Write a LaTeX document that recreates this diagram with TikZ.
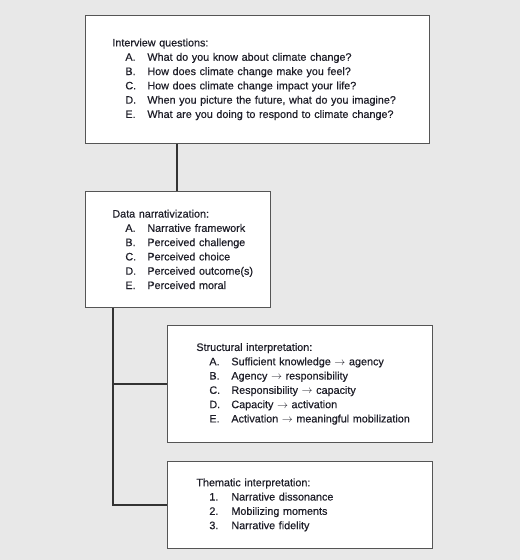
\documentclass[tikz,border=0pt]{standalone}
\usepackage{fontspec}
\setmainfont{Liberation Sans}[BoldFont=Liberation Sans,BoldFeatures={FakeBold=0.4}]
\usepackage{xcolor}
\usepackage{tikz}
\usetikzlibrary{positioning}

\definecolor{bg}{HTML}{E8E8E8}
\definecolor{boxline}{HTML}{555555}
\definecolor{linkline}{HTML}{333333}
\definecolor{ink}{HTML}{1E1E28}

% one list item: label, then text
\newcommand{\itm}[2]{\hspace*{13pt}\makebox[22pt][l]{#1}\mbox{#2}}
\newcommand{\arr}{$\rightarrow$}

\begin{document}
\begin{tikzpicture}[x=1pt,y=-1pt,
    every node/.style={font=\fontsize{10.8}{14.3}\selectfont\bfseries,text=ink},
    stage/.style={draw=boxline,line width=0.8pt,fill=white,anchor=north west,align=left,inner xsep=27pt,inner ysep=0pt},
    link/.style={draw=linkline,line width=1.8pt}]
    \useasboundingbox[fill=bg] (0,0) rectangle (520,560);

    \node[stage,text width=290pt,minimum height=128pt] (intv) at (85,15)
        {Interview questions:\\
         \itm{A.}{What do you know about climate change?}\\
         \itm{B.}{How does climate change make you feel?}\\
         \itm{C.}{How does climate change impact your life?}\\
         \itm{D.}{When you picture the future, what do you imagine?}\\
         \itm{E.}{What are you doing to respond to climate change?}};
    \node[stage,text width=131pt,minimum height=116pt] (narr) at (85,191)
        {Data narrativization:\\
         \itm{A.}{Narrative framework}\\
         \itm{B.}{Perceived challenge}\\
         \itm{C.}{Perceived choice}\\
         \itm{D.}{Perceived outcome(s)}\\
         \itm{E.}{Perceived moral}};
    \node[stage,inner xsep=29pt,text width=207pt,minimum height=117pt] (struc) at (167,325)
        {Structural interpretation:\\
         \itm{A.}{Sufficient knowledge \arr{} agency}\\
         \itm{B.}{Agency \arr{} responsibility}\\
         \itm{C.}{Responsibility \arr{} capacity}\\
         \itm{D.}{Capacity \arr{} activation}\\
         \itm{E.}{Activation \arr{} meaningful mobilization}};
    \node[stage,inner xsep=29pt,text width=207pt,minimum height=87pt] (them) at (167,461)
        {Thematic interpretation:\\
         \itm{1.}{Narrative dissonance}\\
         \itm{2.}{Mobilizing moments}\\
         \itm{3.}{Narrative fidelity}};

    \path[link] ([xshift=92pt]intv.south west) -- ([xshift=92pt]narr.north west);
    \path[link] ([xshift=28pt]narr.south west) |- (struc.west);
    \path[link] ([xshift=28pt]narr.south west) |- (them.west);

\end{tikzpicture}
\end{document}
